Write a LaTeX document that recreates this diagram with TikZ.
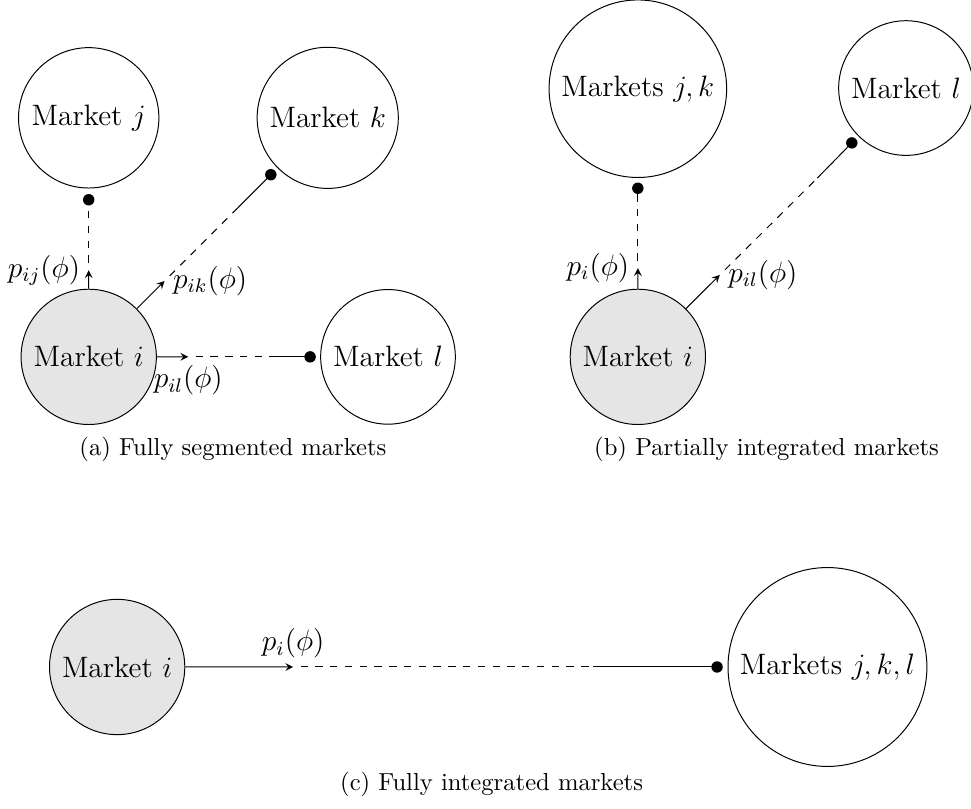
\documentclass[tikz,border=0pt]{standalone}
\begin{document}
\begin{tikzpicture}[>=stealth, scale=0.967,
    market/.style={circle, draw, font=\large, inner sep=3.9pt},
    home/.style={market, fill=gray!20},
    price/.style={font=\large},
    gap/.style={dashed, dash phase=3pt}]
    \useasboundingbox (0,0) rectangle (14.34,-11.94);

    % (a) Fully segmented markets
    \node[market] (jA) at (1.31,-1.74) {Market $j$};
    \node[market] (kA) at (4.84,-1.74) {Market $k$};
    \node[home] (iA) at (1.31,-5.27) {Market $i$};
    \node[market] (lA) at (5.73,-5.27) {Market $l$};
    \coordinate (tj) at (1.31,-3.99);
    \coordinate (dj) at (1.31,-2.95);
    \coordinate (tk) at (2.43,-4.15);
    \coordinate (sk) at (3.51,-3.07);
    \coordinate (dk) at (4.00,-2.58);
    \coordinate (tl) at (2.78,-5.27);
    \coordinate (sl) at (4.09,-5.27);
    \coordinate (dl) at (4.58,-5.27);
    \draw[->] (iA) -- (tj) node[left, price] {$p_{ij}(\phi)$};
    \draw[gap] (tj) -- (dj);
    \draw[->] (iA) -- (tk) node[right, price] {$p_{ik}(\phi)$};
    \draw[gap] (tk) -- (sk);
    \draw (sk) -- (dk);
    \draw[->] (iA) -- (tl) node[below, price] {$p_{il}(\phi)$};
    \draw[gap] (tl) -- (sl);
    \draw (sl) -- (dl);
    \foreach \d in {dj, dk, dl}
        \fill (\d) circle (2.4pt);
    \node (capA) at (3.44,-6.64) {(a) Fully segmented markets};

    % (b) Partially integrated markets
    \node[market] (jkB) at (9.42,-1.31) {Markets $j,k$};
    \node[market] (lB) at (13.38,-1.30) {Market $l$};
    \node[home] (iB) at (9.42,-5.27) {Market $i$};
    \coordinate (tjk) at (9.42,-3.96);
    \coordinate (djk) at (9.42,-2.78);
    \coordinate (tlb) at (10.63,-4.06);
    \coordinate (slb) at (12.07,-2.63);
    \coordinate (dlb) at (12.58,-2.11);
    \draw[->] (iB) -- (tjk) node[left, price] {$p_i(\phi)$};
    \draw[gap] (tjk) -- (djk);
    \draw[->] (iB) -- (tlb) node[right, price] {$p_{il}(\phi)$};
    \draw[gap] (tlb) -- (slb);
    \draw (slb) -- (dlb);
    \foreach \d in {djk, dlb}
        \fill (\d) circle (2.4pt);
    \node (capB) at (11.32,-6.64) {(b) Partially integrated markets};

    % (c) Fully integrated markets
    \node[home] (iC) at (1.73,-9.85) {Market $i$};
    \node[market] (jklC) at (12.22,-9.85) {Markets $j,k,l$};
    \coordinate (tc) at (4.33,-9.85);
    \coordinate (sc) at (8.76,-9.85);
    \coordinate (dc) at (10.59,-9.85);
    \draw[->] (iC) -- (tc) node[above, price] {$p_i(\phi)$};
    \draw[gap] (tc) -- (sc);
    \draw (sc) -- (dc);
    \fill (dc) circle (2.4pt);
    \node (capC) at (7.26,-11.59) {(c) Fully integrated markets};
\end{tikzpicture}
\end{document}
